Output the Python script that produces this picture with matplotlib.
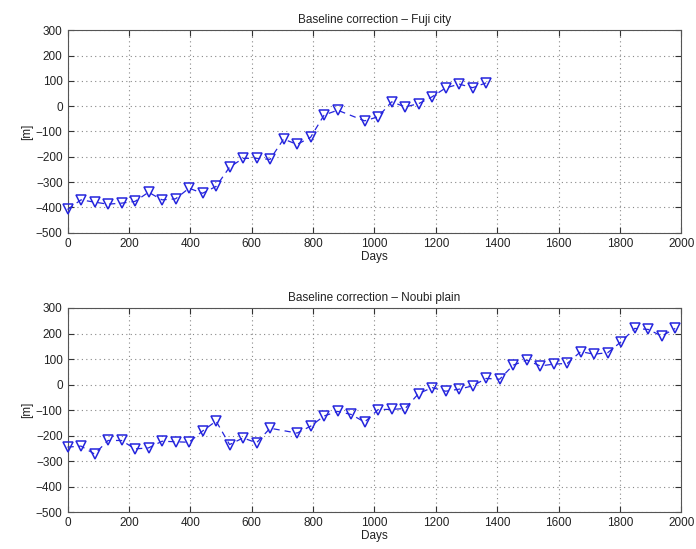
import matplotlib
matplotlib.use('Agg')
import matplotlib.pyplot as plt

plt.rcParams['font.family'] = ['Liberation Sans', 'DejaVu Sans']

# Fuji city: acquisition days and baseline correction [m]
fuji_days = [0, 44, 88, 132, 176, 220, 264, 308, 352, 396, 440, 484, 528, 572,
             616, 660, 704, 748, 792, 836, 880, 968, 1012, 1056, 1100, 1144,
             1188, 1232, 1276, 1320, 1364]
fuji_corr = [-408, -370, -379, -387, -383, -376, -340, -370, -366, -324, -344,
             -317, -241, -206, -206, -210, -130, -151, -123, -35, -16, -58,
             -42, 17, -3, 10, 37, 72, 87, 73, 92]

# Noubi plain
noubi_days = [0, 44, 88, 132, 176, 220, 264, 308, 352, 396, 440, 484, 528, 572,
              616, 660, 748, 792, 836, 880, 924, 968, 1012, 1056, 1100, 1144,
              1188, 1232, 1276, 1320, 1364, 1408, 1452, 1496, 1540, 1584, 1628,
              1672, 1716, 1760, 1804, 1848, 1892, 1936, 1980]
noubi_corr = [-245, -241, -272, -219, -219, -252, -248, -222, -224, -226, -182,
              -143, -235, -209, -228, -171, -190, -163, -123, -105, -117, -147,
              -98, -97, -94, -35, -12, -26, -18, -5, 24, 21, 76, 96, 73, 80, 83,
              129, 119, 125, 168, 220, 216, 190, 220]

titles = ['Baseline correction \u2013 Fuji city', 'Baseline correction \u2013 Noubi plain']
series = [(fuji_days, fuji_corr), (noubi_days, noubi_corr)]

fig = plt.figure(figsize=(6.96, 5.49), dpi=100)
positions = [[0.097, 0.576, 0.882, 0.369], [0.097, 0.067, 0.882, 0.372]]

for pos, title, (days, corr) in zip(positions, titles, series):
    ax = fig.add_axes(pos)
    ax.plot(days, corr, linestyle='--', color='#2525dd', linewidth=0.9,
            dashes=(5, 4), marker='v', markersize=7, markerfacecolor='none',
            markeredgecolor='#2525dd', markeredgewidth=1.1, clip_on=False,
            zorder=3)
    ax.set_xlim(0, 2000)
    ax.set_ylim(-500, 300)
    ax.set_xticks(range(0, 2001, 200))
    ax.set_yticks(range(-500, 301, 100))
    ax.grid(True, linestyle=(0, (1, 3)), color='#888888', linewidth=0.8)
    ax.tick_params(direction='in', top=True, right=True, labelsize=8.5,
                   length=4, colors='#333333', labelcolor='#222222')
    for s in ax.spines.values():
        s.set_color('#555555')
    ax.set_title(title, fontsize=8.5, color='#222222', pad=5)
    ax.set_xlabel('Days', fontsize=8.5, color='#222222', labelpad=1)
    ax.set_ylabel('[m]', fontsize=8.5, color='#222222', labelpad=2)

fig.savefig('out.png', dpi=100)
